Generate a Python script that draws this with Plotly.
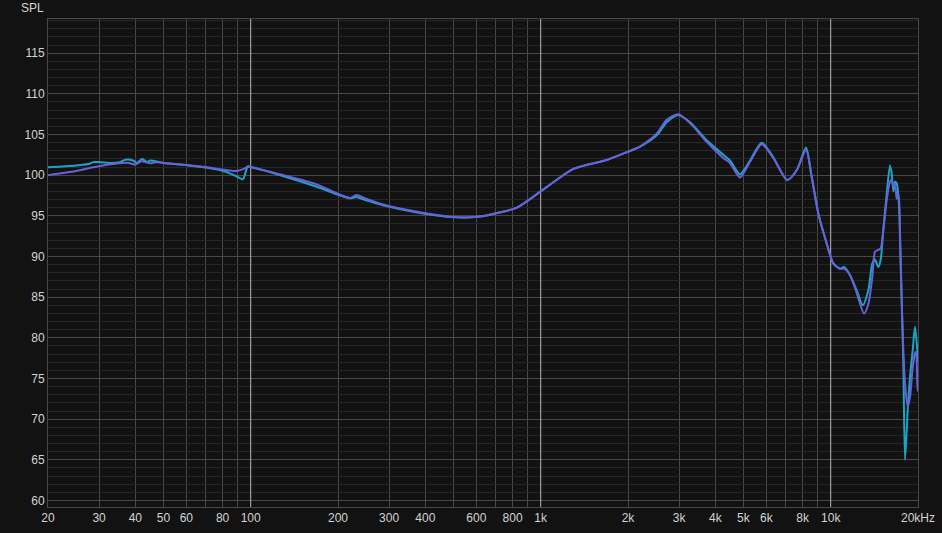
import plotly.graph_objects as go

# ---- data ----
freq_purple = [20, 25, 28, 30, 35, 38, 40, 42, 45, 47, 50, 60, 70, 80, 89, 95, 98, 100,
               130, 168, 200, 220, 231, 250, 286, 375, 485, 555, 632, 720, 827, 1000,
               1093, 1302, 1700, 2005, 2200, 2512, 2719, 2982, 3273, 3737, 4263, 4496,
               4866, 5270, 5782, 6339, 7084, 7633, 8220, 8599, 9062, 9688, 10210, 10770,
               11120, 11660, 12300, 13030, 13490, 13920, 14220, 14590, 14870, 15180, 15600,
               16010, 16230, 16450, 16670, 16890, 17160, 17340, 17570, 17800, 18040, 18430,
               18770, 19180, 19530, 19690, 19890, 20000]
spl_purple = [100.0, 100.5, 100.9, 101.1, 101.45, 101.5, 101.3, 101.7, 101.45, 101.6, 101.5,
              101.25, 101.0, 100.7, 100.5, 100.8, 101.1, 101.0,
              100.0, 98.9, 97.7, 97.2, 97.55, 97.1, 96.4, 95.5, 94.9, 94.8, 94.97, 95.4, 96.0, 98.0,
              99.0, 100.8, 101.9, 102.9, 103.5, 105.1, 106.8, 107.5, 106.4, 104.1, 102.1, 101.5,
              99.7, 101.65, 103.8, 102.1, 99.4, 100.6, 103.1, 99.8, 95.3, 91.6, 89.15, 88.5,
              88.5, 87.7, 85.5, 83.0, 84.2, 87.5, 90.6, 90.8, 91.0, 93.2, 96.9,
              99.2, 99.4, 98.6, 98.9, 97.1, 97.6, 91.6, 84.6, 78.5, 74.4, 71.5,
              72.7, 76.4, 78.1, 78.3, 74.4, 73.4]

freq_cyan = [20, 25, 27.9, 28.6, 30.2, 33, 35.4, 37, 39.3, 40.5, 42.2, 44, 45, 50, 61, 70,
             80, 89, 94, 97.6, 100, 129, 168, 200, 220, 231, 250, 286, 375, 485, 555, 632,
             720, 827, 1000, 1093, 1302, 1700, 2005, 2200, 2512, 2719, 2982, 3273, 3737,
             4263, 4496, 4866, 5270, 5782, 6339, 7084, 7633, 8220, 8599, 9062, 9688, 10210,
             10770, 11120, 11660, 12300, 12900, 13490, 13920, 14220, 14590, 14870, 15180,
             15600, 16010, 16230, 16450, 16670, 16890, 17160, 17340, 17570, 17800, 18040,
             18430, 18770, 19180, 19530, 19890, 20000]
spl_cyan = [100.96, 101.2, 101.4, 101.6, 101.6, 101.5, 101.6, 101.9, 101.8, 101.5, 102.0,
            101.6, 101.8, 101.5, 101.2, 100.95,
            100.55, 99.9, 99.5, 101.05, 101.0, 99.9, 98.6, 97.6, 97.15, 97.3, 96.9, 96.3, 95.4,
            94.85, 94.8, 94.95,
            95.4, 96.0, 98.0, 99.0, 100.8, 101.9, 102.9, 103.5, 104.9, 106.5, 107.4, 106.5, 104.3,
            102.5, 101.8, 100.1, 101.8, 104.0, 102.2, 99.4, 100.6, 103.4, 99.8, 95.3, 91.6, 89.15,
            88.5, 88.7, 87.7, 85.8, 84.0, 85.9, 89.15, 89.6, 88.7, 89.6, 93.2,
            97.7, 101.2, 100.2, 98.0, 99.2, 99.0, 96.9, 92.8, 84.6, 76.9, 65.0,
            71.1, 75.2, 78.5, 81.35, 78.5, 77.0]

x_tick_vals = [20, 30, 40, 50, 60, 80, 100, 200, 300, 400, 600, 800, 1000, 2000, 3000,
               4000, 5000, 6000, 8000, 10000, 20000]
x_tick_text = ["20", "30", "40", "50", "60", "80", "100", "200", "300", "400", "600", "800",
               "1k", "2k", "3k", "4k", "5k", "6k", "8k", "10k", "20kHz"]
x_grid = [20, 30, 40, 50, 60, 70, 80, 90, 200, 300, 400, 500, 600, 700, 800, 900,
          2000, 3000, 4000, 5000, 6000, 7000, 8000, 9000, 20000]
x_decades = [100, 1000, 10000]
y_tick_vals = [60, 65, 70, 75, 80, 85, 90, 95, 100, 105, 110, 115]
y_range = [59.2, 119.2]

BG = "#121212"
GRID_MAJOR = "#484848"
GRID_MINOR = "#262626"
TEXT = "#d4d4d4"
FONT = "Liberation Sans, Arial, sans-serif"

# bright decade grid lines, drawn as a trace so they sit above the regular grid
dec_x, dec_y = [], []
for d in x_decades:
    dec_x += [d, d, None]
    dec_y += [y_range[0], y_range[1], None]

fig = go.Figure()
fig.add_trace(go.Scatter(x=dec_x, y=dec_y, mode="lines",
                         line=dict(color="#b8b8b8", width=1),
                         showlegend=False, hoverinfo="skip"))
fig.add_trace(go.Scatter(x=freq_cyan, y=spl_cyan, mode="lines",
                         line=dict(color="#1aa5c8", width=2, shape="spline", smoothing=0.7),
                         showlegend=False, hoverinfo="skip"))
fig.add_trace(go.Scatter(x=freq_purple, y=spl_purple, mode="lines",
                         line=dict(color="#6a60d8", width=2, shape="spline", smoothing=0.7),
                         showlegend=False, hoverinfo="skip"))

fig.update_layout(
    width=942, height=533,
    margin=dict(l=48, r=24, t=19, b=26, pad=0),
    paper_bgcolor=BG, plot_bgcolor=BG,
    font=dict(family=FONT, size=12, color=TEXT),
    xaxis=dict(type="log", range=[1.30103, 4.30103], automargin=False,
               tickmode="array", tickvals=x_tick_vals, ticktext=x_tick_text,
               showgrid=False,
               minor=dict(tickmode="array", tickvals=x_grid, showgrid=True,
                          gridcolor=GRID_MAJOR, gridwidth=1, ticks=""),
               showline=True, linecolor=GRID_MAJOR, linewidth=1, mirror=True,
               ticks="", ticklen=0, zeroline=False,
               tickfont=dict(family=FONT, size=12, color=TEXT)),
    yaxis=dict(range=y_range, tickmode="array", tickvals=y_tick_vals, automargin=False,
               showgrid=True, gridcolor=GRID_MAJOR, gridwidth=1,
               minor=dict(dtick=1, tick0=0, showgrid=True, gridcolor=GRID_MINOR,
                          gridwidth=1, ticks=""),
               showline=True, linecolor=GRID_MAJOR, linewidth=1, mirror=True,
               ticks="", zeroline=False,
               tickfont=dict(family=FONT, size=12, color=TEXT)),
    annotations=[dict(text="SPL", xref="paper", yref="paper", x=-0.002, y=1.0225,
                      xanchor="right", yanchor="middle", showarrow=False,
                      font=dict(family=FONT, size=12, color=TEXT))],
)

fig.write_html("out.html", config={"displayModeBar": False},
               post_script="document.body.style.margin='0';")
